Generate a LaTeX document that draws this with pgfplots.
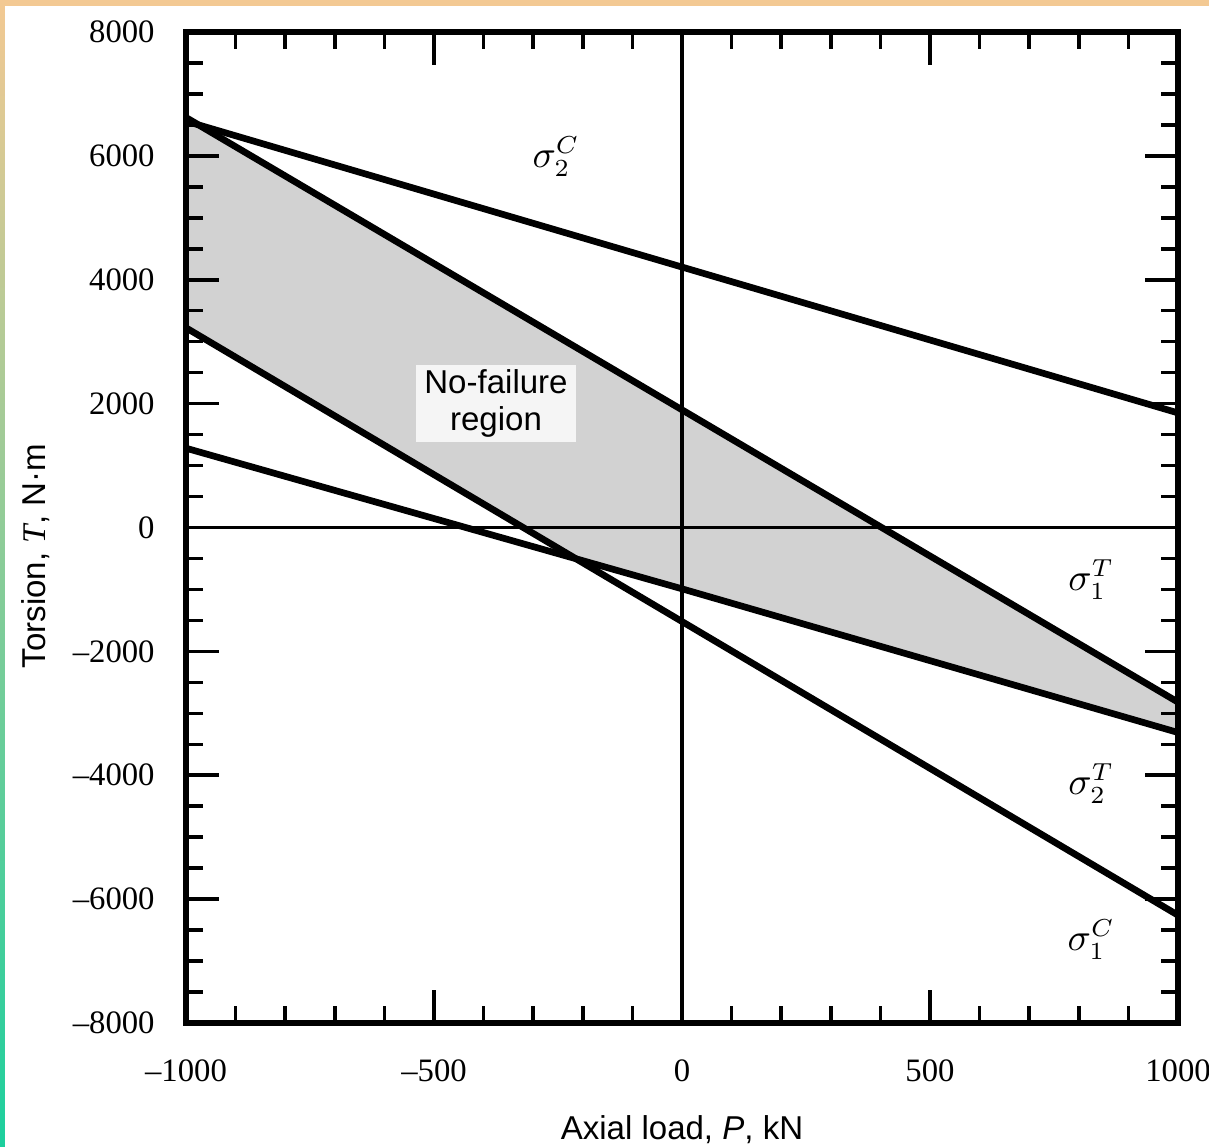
\documentclass[border=0pt]{standalone}
\usepackage{fontspec}
\setmainfont{Liberation Serif}
\setsansfont{Liberation Sans}
\usepackage{pgfplots}
\pgfplotsset{compat=1.18}
\definecolor{topbar}{RGB}{243,201,147}
\definecolor{botbar}{RGB}{28,207,157}
\definecolor{shadegray}{RGB}{210,210,210}
\begin{document}
\begin{tikzpicture}
\begin{axis}[
  name=ax, at={(0,0)}, anchor=south west,
  width=9.92cm, height=9.91cm, scale only axis,
  xmin=-1000, xmax=1000, ymin=-8000, ymax=8000,
  scaled ticks=false,
  xtick={-1000,-500,0,500,1000},
  xticklabels={\textendash1000,\textendash500,0,500,1000},
  ytick={-8000,-6000,-4000,-2000,0,2000,4000,6000,8000},
  yticklabels={\textendash8000,\textendash6000,\textendash4000,\textendash2000,0,2000,4000,6000,8000},
  minor x tick num=4, minor y tick num=3,
  tick align=inside, tick pos=both,
  major tick length=0.33cm, minor tick length=0.17cm,
  tick style={black, line width=1pt},
  axis line style={line width=1.6pt},
  axis on top=true,
  ticklabel style={font=\fontsize{9.3}{10}\selectfont},
  xticklabel style={yshift=-0.24cm},
  yticklabel style={xshift=-0.19cm},
  xlabel={Axial load, \textit{P}, kN},
  ylabel={Torsion, {\rmfamily\itshape T}, N\textperiodcentered m},
  xlabel style={at={(axis description cs:0.5,-0.118)}, anchor=base, font=\sffamily\fontsize{9.4}{11}\selectfont},
  ylabel style={at={(axis description cs:-0.1421,0.471)}, anchor=base, font=\sffamily\fontsize{9.4}{11}\selectfont},
]
% no-failure region
\addplot[fill=shadegray, draw=none] coordinates {
  (-1000,6620) (1000,-2820) (1000,-3310) (0,-990) (-213.6,-505) (-1000,3224)
} -- cycle;
% axes through origin
\addplot[black, line width=1.1pt] coordinates {(0,-8000) (0,8000)};
\addplot[black, line width=1.1pt] coordinates {(-1000,0) (1000,0)};
% failure lines
\addplot[black, line width=1.9pt] coordinates {(-1000,6560) (1000,1850)};
\addplot[black, line width=1.9pt] coordinates {(-1000,6620) (1000,-2820)};
\addplot[black, line width=1.9pt] coordinates {(-1000,3224) (1000,-6260)};
\addplot[black, line width=1.9pt] coordinates {(-1000,1280) (0,-990) (1000,-3310)};
% labels
\node[font=\fontsize{10.5}{12}\selectfont] at (axis cs:-254,5990) {$\sigma_2^C$};
\node[font=\fontsize{10.5}{12}\selectfont] at (axis cs:825,-840) {$\sigma_1^T$};
\node[font=\fontsize{10.5}{12}\selectfont] at (axis cs:825,-4133) {$\sigma_2^T$};
\node[font=\fontsize{10.5}{12}\selectfont] at (axis cs:825,-6652) {$\sigma_1^C$};
\node[fill=black!4, align=center, inner xsep=0.08cm, inner ysep=0.05cm,
      font=\sffamily\fontsize{9.4}{10.5}\selectfont] at (axis cs:-375,2000) {No-failure\\region};
\end{axis}
\pgfresetboundingbox
\begin{scope}[shift={(ax.south west)}]
\path[use as bounding box] (-1.86,-1.24) rectangle (10.23,10.23);
\fill[topbar] (-1.86,10.17) rectangle (10.23,10.23);
\shade[top color=topbar, bottom color=botbar] (-1.86,-1.24) rectangle (-1.81,10.23);
\end{scope}
\end{tikzpicture}
\end{document}
